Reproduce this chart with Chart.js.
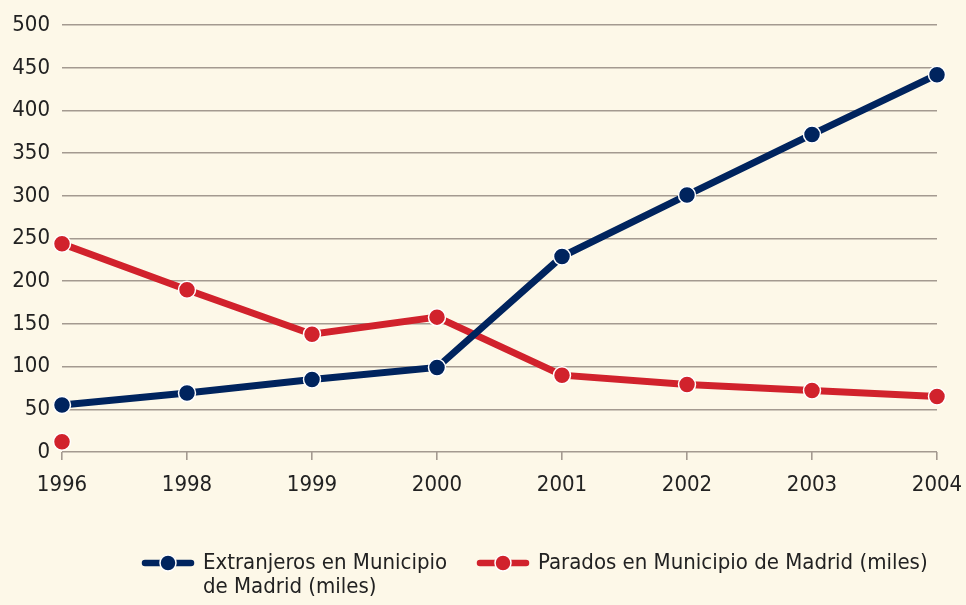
<!DOCTYPE html>
<html>
<head>
<meta charset="utf-8">
<script src="https://cdn.jsdelivr.net/npm/chart.js@4.4.0/dist/chart.umd.min.js"></script>
<style>
    html, body { margin: 0; padding: 0; background: #fdf8e8; }
    #wrap { position: relative; width: 966px; height: 605px; }
    .legend-item { position: absolute; top: 553px; }
    .legend-item canvas { position: absolute; left: 0; top: 0; }
    .legend-item span {
        position: absolute; left: 62px; top: -3px;
        font-family: 'DejaVu Sans Condensed', sans-serif; font-size: 22px;
        line-height: 24px; color: #222222; white-space: nowrap;
    }
</style>
</head>
<body>
<div id="wrap">
    <canvas id="madridChart"></canvas>
    <div id="legend"></div>
</div>
<script>
'use strict';

const years = ['1996', '1998', '1999', '2000', '2001', '2002', '2003', '2004'];
const extranjeros = [55, 69, 85, 99, 229, 301, 372, 442];
const parados = [244, 190, 138, 158, 90, 79, 72, 65];
const paradosSuelto = [12, null, null, null, null, null, null, null];
const yTicks = [0, 50, 100, 150, 200, 250, 300, 350, 400, 450, 500];

const labelExtranjeros = ['Extranjeros en Municipio', 'de Madrid (miles)'];
const labelParados = ['Parados en Municipio de Madrid (miles)'];
const legendLeft = [141, 476];

const navy = '#00245e';
const red = '#d1222c';
const fontFamily = "'DejaVu Sans Condensed', sans-serif";

function legendMarker(color) {
    let c = document.createElement('canvas');
    c.width = 54;
    c.height = 20;
    let ctx = c.getContext('2d');
    ctx.strokeStyle = color;
    ctx.lineWidth = 6.5;
    ctx.lineCap = 'round';
    ctx.beginPath();
    ctx.moveTo(4, 10);
    ctx.lineTo(50, 10);
    ctx.stroke();
    ctx.beginPath();
    ctx.arc(27, 10, 8, 0, Math.PI * 2);
    ctx.fillStyle = color;
    ctx.fill();
    ctx.lineWidth = 1.5;
    ctx.strokeStyle = '#ffffff';
    ctx.stroke();
    return c;
}

const chart = new Chart('madridChart', {
    type: 'line',
    data: {
        labels: years,
        datasets: [{
            label: labelExtranjeros,
            data: extranjeros,
            borderColor: navy,
            backgroundColor: navy,
            borderWidth: 7,
            pointRadius: 8.5,
            pointBorderWidth: 1.5,
            pointBorderColor: '#ffffff',
            pointBackgroundColor: navy,
            tension: 0
        }, {
            label: labelParados,
            data: parados,
            borderColor: red,
            backgroundColor: red,
            borderWidth: 7,
            pointRadius: 8.5,
            pointBorderWidth: 1.5,
            pointBorderColor: '#ffffff',
            pointBackgroundColor: red,
            tension: 0
        }, {
            label: 'suelto',
            data: paradosSuelto,
            showLine: false,
            pointRadius: 8.5,
            pointBorderWidth: 1.5,
            pointBorderColor: '#ffffff',
            pointBackgroundColor: red
        }]
    },
    options: {
        responsive: true,
        maintainAspectRatio: false,
        animation: false,
        layout: { padding: { top: 23, right: 29, left: 0, bottom: 103 } },
        plugins: {
            tooltip: { enabled: false },
            legend: { display: false }
        },
        scales: {
            x: {
                offset: false,
                afterFit: function (scale) {
                    scale.height = 50;
                    scale.paddingLeft = 0;
                    scale.paddingRight = 0;
                },
                grid: { drawOnChartArea: false, color: '#a49a90', lineWidth: 1.6, tickLength: 8 },
                border: { display: false },
                ticks: {
                    color: '#222222',
                    font: { family: fontFamily, size: 22 },
                    padding: 12,
                    maxRotation: 0,
                    autoSkip: false
                }
            },
            y: {
                min: 0,
                max: 500,
                afterBuildTicks: function (scale) {
                    scale.ticks = yTicks.map(function (v) { return { value: v }; });
                },
                afterFit: function (scale) { scale.width = 62; },
                grid: { color: '#a49a90', lineWidth: 1.6, drawTicks: false },
                border: { display: false },
                ticks: {
                    color: '#222222',
                    font: { family: fontFamily, size: 22 },
                    padding: 12
                }
            }
        }
    }
});

// legend drawn as html, one entry per line series
const legendBox = document.getElementById('legend');
chart.data.datasets.slice(0, 2).forEach(function (ds, i) {
    let item = document.createElement('div');
    item.className = 'legend-item';
    item.style.left = legendLeft[i] + 'px';
    item.appendChild(legendMarker(ds.borderColor));
    let text = document.createElement('span');
    text.innerHTML = ds.label.join('<br>');
    item.appendChild(text);
    legendBox.appendChild(item);
});
</script>
</body>
</html>
